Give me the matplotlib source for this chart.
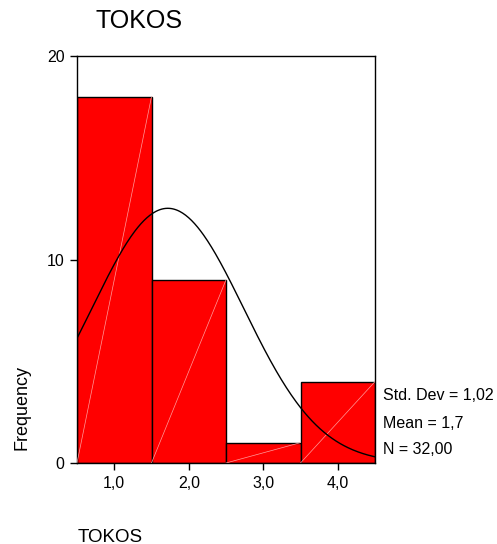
import matplotlib

matplotlib.use("Agg")

import matplotlib.pyplot as plt
import numpy as np

plt.rcParams["font.family"] = ["Liberation Sans", "DejaVu Sans"]

# histogram of TOKOS (bin centres and counts)
bin_centers = [1.0, 2.0, 3.0, 4.0]
counts = [18, 9, 1, 4]
xtick_labels = ["1,0", "2,0", "3,0", "4,0"]
ytick_values = [0, 10, 20]

std_dev = 1.02
mean = 55 / 32
n_total = 32
stats_lines = ["Std. Dev = 1,02", "Mean = 1,7", "N = 32,00"]

fig = plt.figure(figsize=(4.97, 5.44), dpi=100)
ax = fig.add_axes([77 / 497, 1 - 463 / 544, 298 / 497, 407 / 544])

width = 1.0
ax.bar(bin_centers, counts, width=width, color="#ff0000", edgecolor="black",
       linewidth=1.0, zorder=2)

# thin highlight diagonal inside each bar
for c, h in zip(bin_centers, counts):
    ax.plot([c - width / 2, c + width / 2], [0, h], color="#ff9c9c",
            linewidth=0.5, zorder=3)

# fitted normal curve scaled to the counts
xs = np.linspace(0.5, 4.5, 300)
pdf = np.exp(-0.5 * ((xs - mean) / std_dev) ** 2) / (std_dev * np.sqrt(2 * np.pi))
ax.plot(xs, n_total * width * pdf, color="black", linewidth=1.0, zorder=4)

ax.set_xlim(0.5, 4.5)
ax.set_ylim(0, 20)
ax.set_xticks(bin_centers)
ax.set_xticklabels(xtick_labels, fontsize=11.5)
ax.set_yticks(ytick_values)
ax.set_yticklabels([str(v) for v in ytick_values], fontsize=11.5)
ax.tick_params(direction="out", length=5, width=1, pad=4)
for s in ax.spines.values():
    s.set_linewidth(1.0)

fig.text(95 / 497, 1 - 21 / 544, "TOKOS", fontsize=18, va="center", ha="left")
fig.text(22 / 497, 1 - 408 / 544, "Frequency", fontsize=13, rotation=90,
         va="center", ha="center")
fig.text(78 / 497, 1 - 537 / 544, "TOKOS", fontsize=13.5, va="center", ha="left")

for i, line in enumerate(stats_lines):
    fig.text(383 / 497, 1 - (396 + 27 * i) / 544, line, fontsize=11.5,
             va="center", ha="left")

fig.savefig("out.png", dpi=100)
